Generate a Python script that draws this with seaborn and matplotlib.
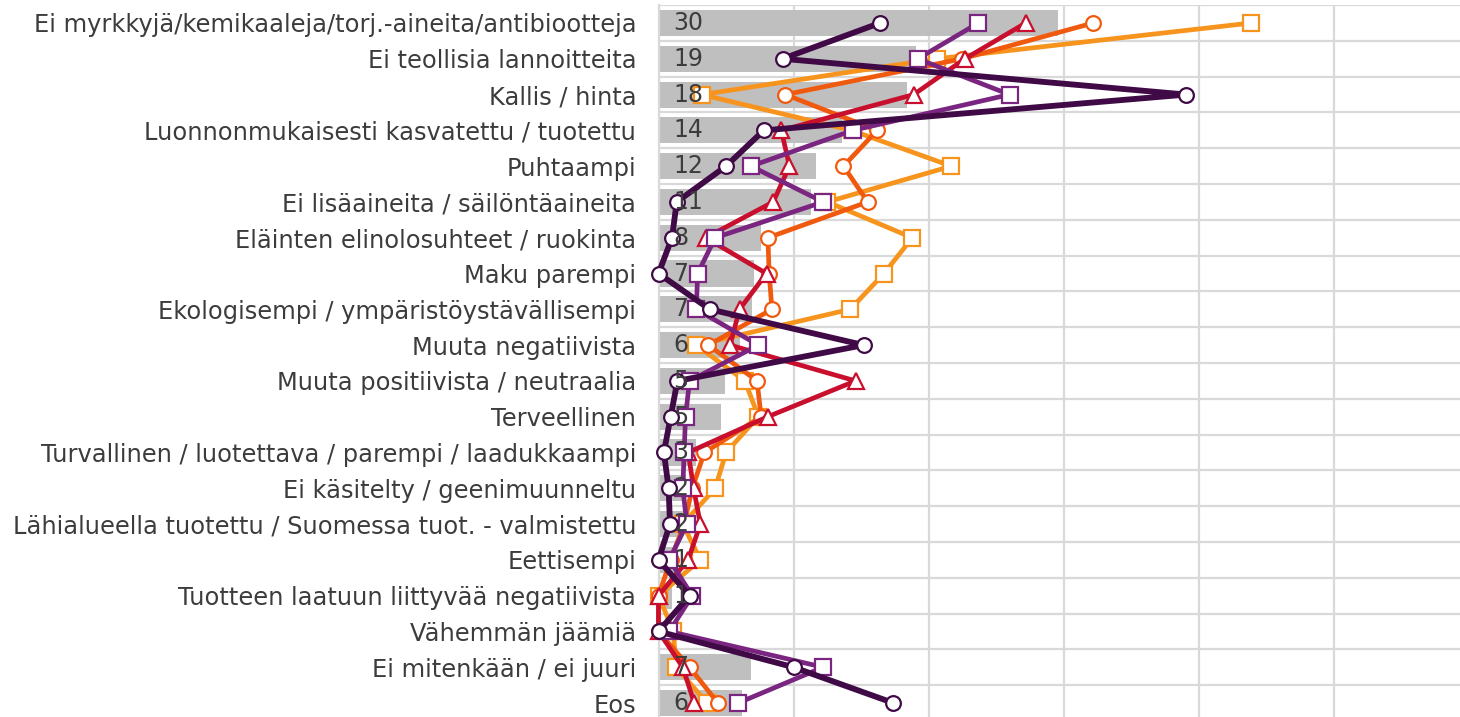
import numpy as np
import matplotlib
matplotlib.use("Agg")
import matplotlib.pyplot as plt
import seaborn as sns

categories = [
    "Ei myrkkyjä/kemikaaleja/torj.-aineita/antibiootteja",
    "Ei teollisia lannoitteita",
    "Kallis / hinta",
    "Luonnonmukaisesti kasvatettu / tuotettu",
    "Puhtaampi",
    "Ei lisäaineita / säilöntäaineita",
    "Eläinten elinolosuhteet / ruokinta",
    "Maku parempi",
    "Ekologisempi / ympäristöystävällisempi",
    "Muuta negatiivista",
    "Muuta positiivista / neutraalia",
    "Terveellinen",
    "Turvallinen / luotettava / parempi / laadukkaampi",
    "Ei käsitelty / geenimuunneltu",
    "Lähialueella tuotettu / Suomessa tuot. - valmistettu",
    "Eettisempi",
    "Tuotteen laatuun liittyvää negatiivista",
    "Vähemmän jäämiä",
    "Ei mitenkään / ei juuri",
    "Eos",
]

total = [29.6, 19.1, 18.4, 13.6, 11.7, 11.3, 7.6, 7.1, 6.9, 6.0,
         4.9, 4.6, 2.8, 2.0, 1.8, 1.2, 1.0, 0.0, 6.85, 6.2]

series_a = [16.4, 9.2, 39.1, 7.8, 5.0, 1.35, 1.0, 0.0, 3.8, 15.2,
            1.4, 0.9, 0.4, 0.75, 0.85, 0.0, 2.3, 0.0, 10.0, 17.4]
series_b = [23.7, 19.2, 26.0, 14.4, 6.85, 12.2, 4.2, 2.9, 2.8, 7.4,
            2.3, 2.0, 1.9, 1.8, 2.1, 0.8, 2.5, 0.8, 12.2, 5.9]
series_c = [27.2, 22.7, 18.9, 9.1, 9.7, 8.5, 3.5, 8.0, 6.0, 5.3,
            14.6, 8.1, 2.2, 2.6, 3.1, 2.2, 0.0, 0.0, 1.8, 2.65]
series_d = [32.2, 22.5, 9.4, 16.2, 13.7, 15.5, 8.1, 8.2, 8.4, 3.7,
            7.3, 7.6, 3.4, 2.5, 1.9, 0.9, 0.0, 0.0, 2.3, 4.4]
series_e = [43.9, 20.6, 3.2, 14.3, 21.7, 12.5, 18.8, 16.7, 14.2, 2.8,
            6.4, 7.4, 5.0, 4.2, 1.8, 3.1, 0.0, 1.1, 1.3, 3.6]

sns.set_style("white")
plt.rcParams["font.family"] = ["DejaVu Sans"]

W, H = 1460, 717
fig = plt.figure(figsize=(W / 100, H / 100), dpi=100)
row_px = 35.79
top_px = 5.1
left_px = 658.5
unit_px = 13.5
xmax = 60
ax = fig.add_axes([left_px / W, (H - top_px - 20 * row_px) / H,
                   xmax * unit_px / W, 20 * row_px / H])

pos = np.arange(len(categories))

sns.barplot(x=total, y=categories, orient="h", color="#bfbfbf",
            saturation=1, width=0.73, linewidth=0, ax=ax, zorder=2)

styles = [
    (series_e, "#f7941d", "s", 11.5, 3.4, 3),
    (series_d, "#f05a0f", "o", 10.6, 3.4, 4),
    (series_c, "#c8102e", "^", 11.5, 3.4, 5),
    (series_b, "#7a2580", "s", 11.5, 3.4, 6),
    (series_a, "#3f0a46", "o", 10.6, 4.2, 7),
]
for vals, col, mk, ms, lw, z in styles:
    sns.lineplot(x=vals, y=pos, sort=False, orient="y", estimator=None,
                 ax=ax, color=col, marker=mk, markersize=ms,
                 markerfacecolor="white", markeredgecolor=col,
                 markeredgewidth=1.6, linewidth=lw, zorder=z, clip_on=False)

for i, v in enumerate(total):
    if round(v) > 0:
        ax.text(1.1, i, f"{v:.0f}", ha="left", va="center",
                fontsize=17, color="#3c3c3c", zorder=10)

ax.set_xlim(0, xmax)
ax.set_ylim(len(categories) - 0.5, -0.5)
ax.set_xticks(np.arange(0, xmax + 1, 10))
ax.set_yticks(pos)
ax.set_yticklabels(categories)
ax.set_yticks(np.arange(-0.5, len(categories), 1), minor=True)
ax.tick_params(axis="x", labelbottom=False, length=0)
ax.tick_params(axis="y", which="both", length=0, pad=16,
               labelsize=17.4, labelcolor="#3c3c3c")
ax.xaxis.grid(True, color="#d9d9d9", linewidth=1.6)
ax.yaxis.grid(True, which="minor", color="#d9d9d9", linewidth=1.6)
ax.yaxis.grid(False, which="major")
ax.set_axisbelow(True)
ax.set_xlabel("")
ax.set_ylabel("")
for s in ["top", "right", "bottom"]:
    ax.spines[s].set_visible(False)
ax.spines["left"].set_color("#d9d9d9")
ax.spines["left"].set_linewidth(1.6)
legend = ax.get_legend()
if legend is not None:
    legend.remove()

fig.savefig("out.png", dpi=100)
